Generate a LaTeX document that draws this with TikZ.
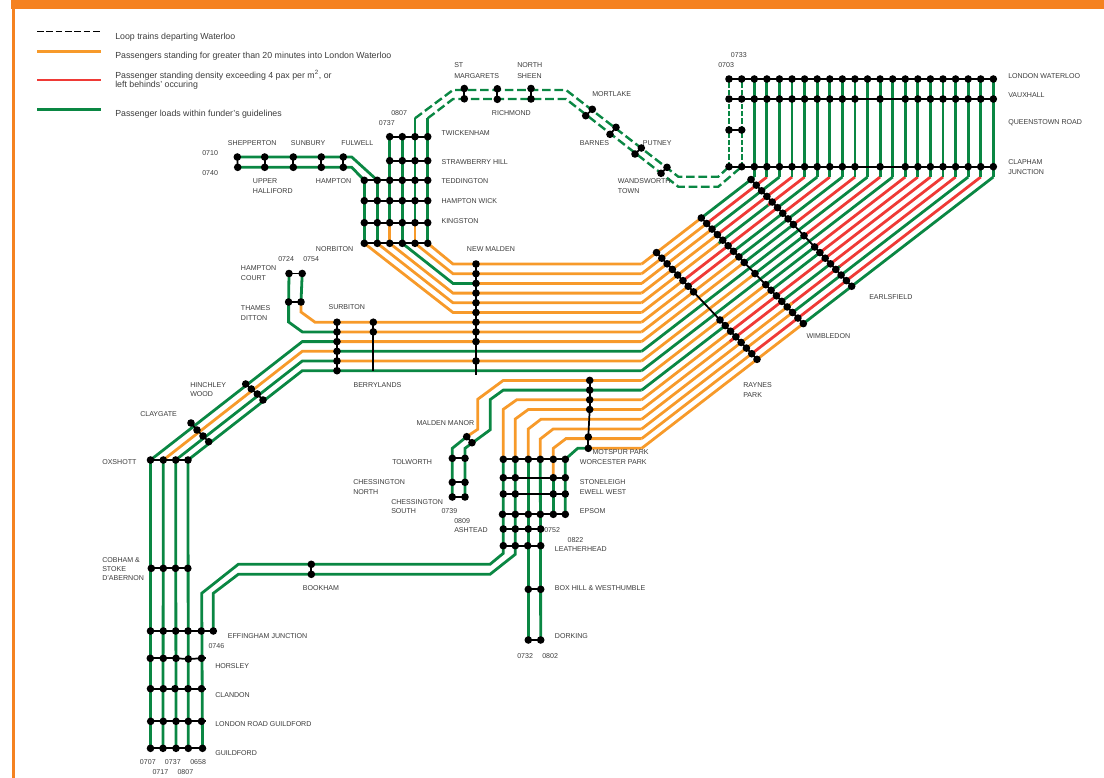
\documentclass[tikz,border=0pt]{standalone}
\usepackage{fontspec}
\setmainfont{Liberation Sans}
\usetikzlibrary{calc}
\definecolor{tO}{HTML}{F79A2A}
\definecolor{tG}{HTML}{0A8743}
\definecolor{tR}{HTML}{EF3A36}
\definecolor{frame}{HTML}{F58220}
\definecolor{txt}{HTML}{3C3C3C}
\pgfdeclarelayer{tracks}
\pgfsetlayers{tracks,main}
\tikzset{
  track/.style={line width=2.1pt,line cap=butt,line join=miter},
  loopgreen/.style={track,tG,line width=1.8pt,dash pattern=on 6.5pt off 2.8pt},
  loopvert/.style={track,tG,dash pattern=on 3.8pt off 1.6pt,line width=1.6pt},
  bar/.style={line width=1.3pt,black},
  stopdot/.style={circle,fill=black,inner sep=0pt,minimum size=5.7pt},
  lbl/.style={anchor=west,inner sep=0pt,text=txt,font=\fontsize{5.3pt}{6pt}\selectfont},
  leg/.style={anchor=west,inner sep=0pt,text=txt,font=\fontsize{6.6pt}{7pt}\selectfont},
}
\newcount\lblcount
\newcommand\lab[3]{\global\advance\lblcount by 1 \node[lbl] (lbl\the\lblcount) at (#1,#2) {#3};}
\newcommand\legt[3]{\global\advance\lblcount by 1 \node[leg] (lbl\the\lblcount) at (#1,#2) {#3};}
\newcommand\stn[2]{\foreach \px/\py [count=\sn] in {#2}{\node[stopdot] (#1-\sn) at (\px,\py) {};
  \ifnum\sn>1 \pgfmathtruncatemacro\sm{\sn-1}\draw[bar] (#1-\sm.center) -- (#1-\sn.center);\fi}}
% colours of the twenty diagonal lines, segment by segment
\def\colA{{"tO","tO","tO","tO","tO","tO","tO","tO","tO","tG","tO","tG","tO","tG","tO","tO","tO","tO","tO","tO"}}
\def\colB{{"tO","tO","tO","tO","tO","tR","tR","tO","tO","tG","tO","tG","tO","tO","tR","tR","tO","tO","tR","tO"}}
\def\colC{{"tG","tR","tG","tR","tG","tR","tG","tG","tG","tG","tG","tG","tG","tG","tR","tG","tR","tG","tR","tG"}}
\def\colD{{"tG","tR","tG","tR","tR","tG","tR","tG","tR","tG","tR","tG","tR","tR","tR","tR","tR","tG","tR","tG"}}
\begin{document}
\begin{tikzpicture}[x=0.75pt,y=-0.75pt]
\useasboundingbox (0,0) rectangle (1104,778);
% frame
\fill[frame] (11,0) rectangle (1104,9.3);
\fill[frame] (12.3,9.3) rectangle (14.7,778);
% legend
\coordinate (la1) at (37,31.5); \coordinate (lb1) at (101,31.5);
\coordinate (la2) at (37,51.3); \coordinate (lb2) at (101,51.3);
\coordinate (la3) at (37,80);   \coordinate (lb3) at (101,80);
\coordinate (la4) at (37,109.4);\coordinate (lb4) at (101,109.4);
\draw[black,line width=1pt,dash pattern=on 5pt off 2pt] (la1) -- (lb1);
\draw[tO,line width=2.2pt] (la2) -- (lb2);
\draw[tR,line width=1.6pt] (la3) -- (lb3);
\draw[tG,line width=2.2pt] (la4) -- (lb4);
\legt{115}{37}{Loop trains departing Waterloo}
\legt{115}{56}{Passengers standing for greater than 20 minutes into London Waterloo}
\legt{115}{75.5}{Passenger standing density exceeding 4 pax per m\textsuperscript{2}, or}
\legt{115}{85}{left behinds' occuring}
\legt{115}{114}{Passenger loads within funder's guidelines}

% diagonal geometry
\foreach \i in {0,...,19}{
  \pgfmathsetmacro\yh{264+9.7*\i}
  \pgfmathsetmacro\xt{754.3+12.58*\i}
  \pgfmathsetmacro\mm{(\yh-177)/(\xt-641.7)}
  \pgfmathsetmacro\xr{656.5+5.29*\i}
  \pgfmathsetmacro\xw{701.3+5.368*\i}
  \pgfmathsetmacro\xe{751+5.3*\i}
  \pgfmathsetmacro\yr{\yh-\mm*(\xr-641.7)}
  \pgfmathsetmacro\yw{\yh-\mm*(\xw-641.7)}
  \pgfmathsetmacro\ye{\yh-\mm*(\xe-641.7)}
  \coordinate (h-\i) at (641.7,\yh);
  \coordinate (top-\i) at (\xt,177);
  \coordinate (ras-\i) at (\xr,\yr);
  \coordinate (wim-\i) at (\xw,\yw);
  \coordinate (ear-\i) at (\xe,\ye);
  \node[stopdot] (wat-\i) at (\xt,79) {};
  \coordinate (vau-\i) at (\xt,99);
  \coordinate (cla-\i) at (\xt,166.7);
}
\draw[bar] (ras-0) -- (ras-19);
\draw[bar] (wim-0) -- (wim-19);
\draw[bar] (ear-0) -- (ear-19);
\foreach \i in {0,...,7,12,13,14,15,16,17,18,19}{\node[stopdot] (rasd-\i) at (ras-\i) {};}
\foreach \i in {0,...,8,10,12,13,14,15,16,17,18,19}{
  \node[stopdot] (wimd-\i) at (wim-\i) {};
  \node[stopdot] (eard-\i) at (ear-\i) {};
  \node[stopdot] (claqd-\i) at (cla-\i) {};
  \node[stopdot] (vaud-\i) at (vau-\i) {};
}
% Waterloo end
\stn{wata}{729/79,741.7/79}
\stn{vaua}{729/99,741.7/99}
\stn{que}{729/130,741.7/130}
\stn{claa}{729/166.7,741.7/166.7}
\draw[bar] (wata-2.center) -- (wat-19.center);
\draw[bar] (vaua-2.center) -- (vaud-19.center);
\draw[bar] (claa-2.center) -- (claqd-19.center);
% New Malden, Surbiton, Berrylands, Motspur Park
\stn{nm}{476/264,476/273.7,476/283.4,476/293.1,476/302.8,476/312.5,476/322.2,476/331.9,476/341.6,476/361}
\coordinate (nmend) at (476,375);
\draw[bar] (nm-10.center) -- (nmend);
\stn{sb}{337/322.2,337/331.9,337/341.6,337/351.3,337/361,337/370.7}
\stn{be}{373.3/322.2,373.3/331.9}
\coordinate (beend) at (373.3,370.7);
\draw[bar] (be-2.center) -- (beend);
\stn{mo}{589.7/380.4,589.7/390.1,589.7/399.8,589.7/409.5,588.3/437,588.3/448.3}
% Hampton Court branch
\stn{hc}{289/273.5,302.2/273.5}
\stn{td}{288.6/302,301/302}
% Shepperton branch
\stn{she}{237.3/157,237.7/167.3}
\stn{upp}{264.7/157,264.7/167.3}
\stn{sun}{293.3/157,293.3/167.3}
\stn{hamp}{321.3/157,321.3/167.3}
\stn{ful}{343.3/157,343.3/167.3}
% Kingston block
\stn{tw}{389.7/136.7,402.3/136.7,415/136.7,427.7/136.7}
\stn{sh}{389.7/160.7,402.3/160.7,415/160.7,427.7/160.7}
\stn{ted}{364.3/180.3,377.3/180.3,389.7/180.3,402.3/180.3,415/180.3,427.7/180.3}
\stn{hw}{364.3/200.7,377.3/200.7,389.7/200.7,402.3/200.7,415/200.7,427.7/200.7}
\stn{ki}{364.3/222.7,377.3/222.7,389.7/222.7,402.3/222.7,415/222.7,427.7/222.7}
\stn{nb}{364.3/243.3,377.3/243.3,389.7/243.3,402.3/243.3,415/243.3,427.7/243.3}
% Loop pairs
\stn{stm}{464.3/88.5,464.3/98.8}
\stn{ric}{497.3/88.8,497.3/99.3}
\stn{nsh}{531/88.5,531/99}
\stn{mor}{592.3/109.3,585.7/115.7}
\stn{bar}{616/127.3,610/134.3}
\stn{put}{641.3/148,635/154}
\stn{wan}{667/167.3,661/173.3}
% Guildford lines
\stn{ox}{150.5/460,163.3/460,175.7/460,188/460}
\stn{hin}{245.7/384,251.3/389,257.3/394,263/400}
\stn{cl}{191/423,197/430,203/436,208.7/441.7}
\stn{cob}{151.3/568.3,163.3/568.3,175.5/568.3,187.8/568.3}
\stn{eff}{150.5/631,163.3/631,175.7/631,188/631,201.3/631,213.3/631}
\stn{hor}{150.3/658.3,163.3/658.3,176/658.3,188.3/659,201.5/658.3}
\stn{cla}{150.5/688.7,163.3/688.7,175/688.7,188/688.7,201.5/688.7}
\stn{lrg}{150.7/721.3,163.3/721.3,176/721.3,188.3/721.3,201.5/721.3}
\stn{gui}{150.5/748.3,163/748.3,176/748.3,188.3/748.3,202.5/748.3}
\stn{boo}{311.3/564.3,311.3/574.3}
% stubs of black beyond the last dots
\coordinate (horend) at (206,658.3);
\coordinate (claend) at (206,688.7);
\coordinate (lrgend) at (206,721.3);
\draw[bar] (hor-5.center) -- (horend);
\draw[bar] (cla-5.center) -- (claend);
\draw[bar] (lrg-5.center) -- (lrgend);
% Chessington
\stn{mm}{466.7/436.7,472/442.7}
\stn{tol}{452.3/458.3,465/458.3}
\stn{cn}{452.3/482.3,465/482.3}
\stn{cs}{452.3/497,465/497}
% Epsom block
\stn{wp}{503.3/459.3,515.3/459.3,528.3/459.3,540.3/459.3,553.3/459.3,565.3/459.3}
\stn{st}{503.3/477.7,515.3/477.7,553.3/477.7,565.3/477.7}
\stn{ew}{503.3/494,515.3/494,553.3/494,565.3/494}
\stn{ep}{502.5/514.3,515.3/514.3,528.3/514.3,540.3/514.3,553.3/514.3,565.3/514.3}
\stn{as}{503.3/529,515.3/529,528.3/529,540.7/529}
\stn{lh}{503.3/545.7,515.3/545.7,527.7/545.7,540.7/545.7}
\stn{box}{528.3/589.3,540.7/589.3}
\stn{dor}{528.3/640,540.7/640}

\begin{pgfonlayer}{tracks}
% 20 diagonals
\foreach \i in {0,...,19}{
  \pgfmathparse{\colA[\i]}\edef\ca{\pgfmathresult}
  \pgfmathparse{\colB[\i]}\edef\cb{\pgfmathresult}
  \pgfmathparse{\colC[\i]}\edef\cc{\pgfmathresult}
  \pgfmathparse{\colD[\i]}\edef\cd{\pgfmathresult}
  \draw[track,color=\ca] (h-\i) -- (ras-\i);
  \draw[track,color=\cb] (ras-\i) -- (wim-\i);
  \draw[track,color=\cc] (wim-\i) -- (ear-\i);
  \draw[track,color=\cd] (ear-\i) -- (top-\i);
  \draw[track,tG] (wat-\i.center) -- (top-\i);
}
\draw[track,tG] (wim-4) -- ++(-4,3.1);
\draw[track,tR] (ear-4) -- ++(-4,3.1);
\draw[track,tR] (ras-15) -- ++(-6,4.6);
\draw[track,tO] (wim-16) -- ++(5,-3.9);
\draw[track,tG] (ear-16) -- ++(4,-3.1);
% New Malden group
\draw[track,tO] (h-0) -- (453,264) -- (nb-6.center);
\draw[track,tO] (h-1) -- (453,273.7) -- (nb-5.center);
\draw[track,tO] (h-2) -- (nm-3.center);
\draw[track,tG] (nm-3.center) -- (453,283.4) -- (nb-4.center);
\draw[track,tO] (h-3) -- (453,293.1) -- (nb-3.center);
\draw[track,tO] (h-4) -- (453,302.8) -- (nb-2.center);
\draw[track,tO] (h-5) -- (453,312.5) -- (nb-1.center);
% Surbiton group
\draw[track,tO] (h-6) -- (315,322.2) -- (301,312) -- (td-2.center);
\draw[track,tG] (td-2.center) -- (hc-2.center);
\draw[track,tO] (h-7) -- (sb-2.center);
\draw[track,tG] (sb-2.center) -- (302.3,331.9) -- (288.6,322) -- (td-1.center) -- (hc-1.center);
\draw[track,tO] (h-8) -- (sb-3.center);
\draw[track,tG] (sb-3.center) -- (302.3,341.6) -- (ox-1.center);
\draw[track,tG] (h-9) -- (sb-4.center);
\draw[track,tO] (sb-4.center) -- (302.3,351.3) -- (ox-2.center);
\draw[track,tO] (h-10) -- (sb-5.center);
\draw[track,tG] (sb-5.center) -- (302.3,361) -- (ox-3.center);
\draw[track,tG] (h-11) -- (sb-6.center) -- (302.3,370.7) -- (ox-4.center);
% Chessington
\draw[track,tO] (h-12) -- (503.3,380.4) -- (477.7,399.3) -- (477.7,429.3) -- (mm-1.center);
\draw[track,tG] (mm-1.center) -- (452.3,448.3) -- (tol-1.center) -- (cs-1.center);
\draw[track,tG] (h-13) -- (503.3,390.1) -- (490.3,399.5) -- (490.3,429.7) -- (465,448.3) -- (tol-2.center) -- (cs-2.center);
% Epsom group
\draw[track,tO] (h-14) -- (516.7,399.8) -- (503.3,409.3) -- (wp-1.center);
\draw[track,tO] (h-15) -- (528.3,409.5) -- (515.3,419) -- (wp-2.center);
\draw[track,tO] (h-16) -- (541,419.2) -- (528.3,429) -- (wp-3.center);
\draw[track,tO] (h-17) -- (553.3,428.9) -- (540.3,439) -- (wp-4.center);
\draw[track,tO] (h-18) -- (566,438.6) -- (553.3,448.3) -- (wp-5.center) -- (st-3.center);
\draw[track,tG] (st-3.center) -- (ep-5.center);
\draw[track,tO] (h-19) -- (mo-6.center);
\draw[track,tG] (mo-6.center) -- (577.7,448.3) -- (wp-6.center) -- (ep-6.center);
\draw[track,tG] (wp-1.center) -- (lh-1.center) -- (503.3,553.3) -- (490,564.3) -- (238.3,564.3) -- (201.7,593.3) -- (gui-5.center);
\draw[track,tG] (wp-2.center) -- (lh-2.center) -- (515.3,554.3) -- (490,574.3) -- (238.3,574.3) -- (213.3,593.3) -- (eff-6.center);
\draw[track,tG] (wp-3.center) -- (dor-1.center);
\draw[track,tG] (wp-4.center) -- (dor-2.center);
% Guildford verticals
\foreach \k in {1,2,3,4}{\draw[track,tG] (ox-\k.center) -- (gui-\k.center);}
% Kingston block verticals
\draw[track,tG] (ted-1.center) -- (nb-1.center);
\draw[track,tG] (ted-2.center) -- (nb-2.center);
\draw[track,tG] (tw-1.center) -- (ki-3.center);
\draw[track,tO] (ki-3.center) -- (nb-3.center);
\draw[track,tG] (tw-2.center) -- (nb-4.center);
\draw[track,tG] (415,118.3) -- (ki-5.center);
\draw[track,tO] (ki-5.center) -- (nb-5.center);
\draw[track,tG] (427.7,118.3) -- (nb-6.center);
% Shepperton
\draw[track,tG] (she-1.center) -- (351.7,157) -- (ted-2.center);
\draw[track,tG] (she-2.center) -- (351.7,167.3) -- (ted-1.center);
% Loop
\draw[loopgreen] (415,118.3) -- (453,90) -- (566,90) -- (678.3,176.7) -- (718.3,176.7) -- (claa-1.center);
\draw[loopgreen] (427.7,118.3) -- (453,99) -- (566,99) -- (678.3,186.7) -- (718.3,186.7) -- (claa-2.center);
\draw[loopvert] (claa-1.center) -- (wata-1.center);
\draw[loopvert] (claa-2.center) -- (wata-2.center);
\end{pgfonlayer}

% station labels
\lab{1008}{76}{LONDON WATERLOO}
\lab{1008}{95}{VAUXHALL}
\lab{1008}{123}{QUEENSTOWN ROAD}
\lab{1008}{162}{CLAPHAM}
\lab{1008}{172}{JUNCTION}
\lab{730.7}{55.5}{0733}
\lab{718}{65.5}{0703}
\lab{454}{65}{ST}
\lab{454}{76}{MARGARETS}
\lab{517}{65}{NORTH}
\lab{517}{76}{SHEEN}
\lab{491.7}{113.5}{RICHMOND}
\lab{592}{94}{MORTLAKE}
\lab{579.7}{143.5}{BARNES}
\lab{642.7}{143.5}{PUTNEY}
\lab{617.7}{181.5}{WANDSWORTH}
\lab{617.7}{191.5}{TOWN}
\lab{441.3}{133.5}{TWICKENHAM}
\lab{441.3}{162.5}{STRAWBERRY HILL}
\lab{441.3}{181.5}{TEDDINGTON}
\lab{441.3}{201.5}{HAMPTON WICK}
\lab{441.3}{220.7}{KINGSTON}
\lab{391}{113.5}{0807}
\lab{378.7}{123.5}{0737}
\lab{227.7}{143.5}{SHEPPERTON}
\lab{290.7}{143.5}{SUNBURY}
\lab{341}{143.5}{FULWELL}
\lab{202}{152.7}{0710}
\lab{202}{172.7}{0740}
\lab{252.7}{181.5}{UPPER}
\lab{252.7}{191.5}{HALLIFORD}
\lab{315.7}{181.5}{HAMPTON}
\lab{315.7}{249.5}{NORBITON}
\lab{466.7}{249.5}{NEW MALDEN}
\lab{278}{259}{0724}
\lab{303}{259}{0754}
\lab{240.7}{268.5}{HAMPTON}
\lab{240.7}{278.5}{COURT}
\lab{240.7}{307.7}{THAMES}
\lab{240.7}{317.7}{DITTON}
\lab{328.3}{307.5}{SURBITON}
\lab{353.3}{385.5}{BERRYLANDS}
\lab{190}{385}{HINCHLEY}
\lab{190}{394.5}{WOOD}
\lab{140}{414}{CLAYGATE}
\lab{102}{462}{OXSHOTT}
\lab{102}{559.7}{COBHAM \&}
\lab{102}{569.5}{STOKE}
\lab{102}{578.5}{D'ABERNON}
\lab{302.7}{588.5}{BOOKHAM}
\lab{227.7}{636.5}{EFFINGHAM JUNCTION}
\lab{208.3}{646.5}{0746}
\lab{215}{666.5}{HORSLEY}
\lab{215}{695.5}{CLANDON}
\lab{215}{724.5}{LONDON ROAD GUILDFORD}
\lab{215}{753.5}{GUILDFORD}
\lab{139.7}{762.5}{0707}
\lab{164.7}{762.5}{0737}
\lab{190}{762.5}{0658}
\lab{152.3}{772.5}{0717}
\lab{177.3}{772.5}{0807}
\lab{869}{297}{EARLSFIELD}
\lab{806.3}{336.5}{WIMBLEDON}
\lab{743}{385}{RAYNES}
\lab{743}{395}{PARK}
\lab{592.3}{452.5}{MOTSPUR PARK}
\lab{579.7}{462.5}{WORCESTER PARK}
\lab{579.7}{482.5}{STONELEIGH}
\lab{579.7}{491.7}{EWELL WEST}
\lab{579.7}{511.5}{EPSOM}
\lab{554.7}{549.5}{LEATHERHEAD}
\lab{544}{530.5}{0752}
\lab{567.3}{540.5}{0822}
\lab{454}{530.5}{ASHTEAD}
\lab{454}{520.7}{0809}
\lab{441.3}{511.5}{0739}
\lab{416.3}{423.5}{MALDEN MANOR}
\lab{392}{462.5}{TOLWORTH}
\lab{353}{482}{CHESSINGTON}
\lab{353}{491.7}{NORTH}
\lab{391}{501.7}{CHESSINGTON}
\lab{391}{511.5}{SOUTH}
\lab{554.7}{588.5}{BOX HILL \& WESTHUMBLE}
\lab{554.7}{636.5}{DORKING}
\lab{517}{656.5}{0732}
\lab{542}{656.5}{0802}
\end{tikzpicture}
\end{document}
